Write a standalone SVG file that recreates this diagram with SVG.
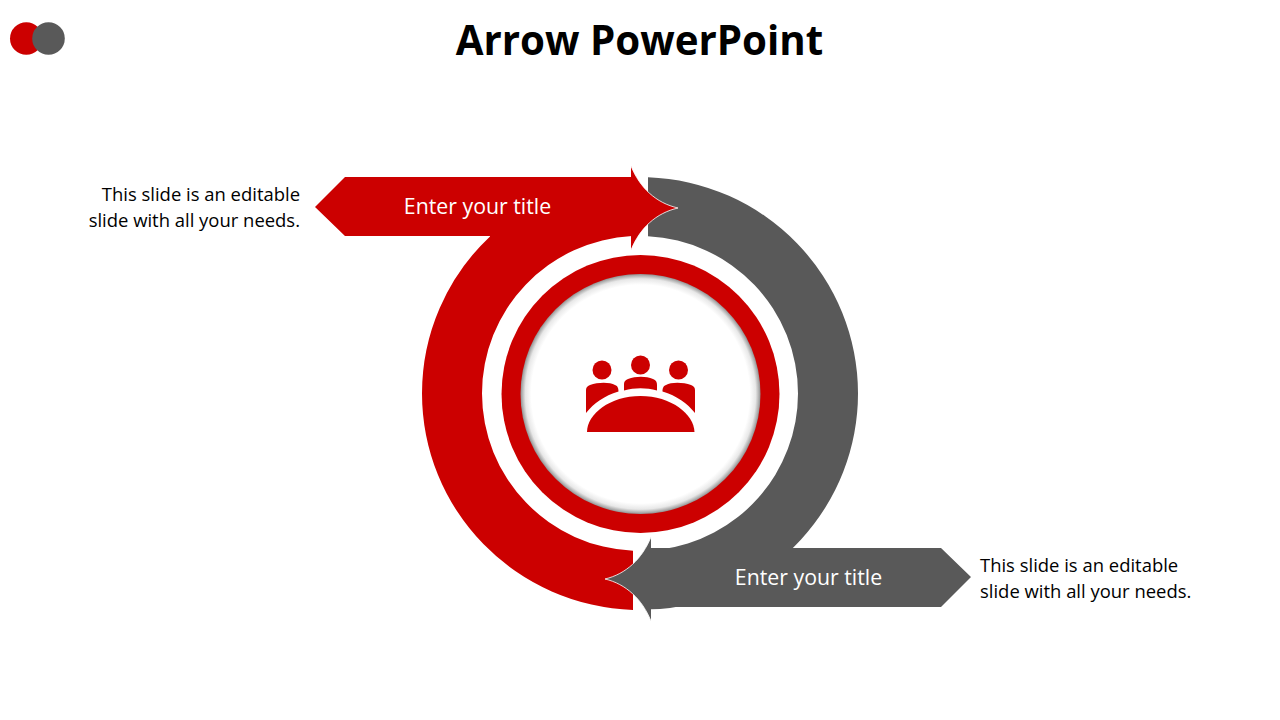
<svg xmlns="http://www.w3.org/2000/svg" width="1280" height="720" viewBox="0 0 1280 720">
<style>
.red{fill:#cc0000}.grey{fill:#595959}
.edge{fill:none;stroke:#fff;stroke-width:0.8}
.t{font-family:"Open Sans","Liberation Sans",sans-serif}
.body{font-size:18.45px;fill:#000}
.lab{font-size:21.3px;fill:#fff;text-anchor:middle}
.title{font-size:40.3px;font-weight:700;fill:#000;text-anchor:middle}
</style>
<defs>
<radialGradient id="inset" gradientUnits="userSpaceOnUse" cx="640.5" cy="394" r="120">
<stop offset="0.91" stop-color="#fff"/>
<stop offset="0.96" stop-color="#e8e8e8"/>
<stop offset="0.99" stop-color="#a8a8a8"/>
<stop offset="1" stop-color="#909090"/>
</radialGradient>
</defs>
<rect width="1280" height="720" fill="#fff"/>
<g id="logo">
<circle class="red" cx="26.300" cy="38.500" r="16.300"/>
<circle class="grey" cx="48.500" cy="38.500" r="16.300"/>
</g>
<text id="title" class="t title" x="639.500" y="54.500">Arrow PowerPoint</text>
<g id="connectors">
<path id="grey-arc" class="grey" d="M648 177.150A218 216.500 0 0 1 858 393.500A218 216.500 0 0 1 660 609.100L651 609.300V550H660V549.700A158 157.500 0 0 0 798 393.500A158 157.500 0 0 0 648 236.200Z"/>
<path id="red-arc" class="red" d="M633 609.900A218 216.500 0 0 1 422 393.500A218 216.500 0 0 1 490 236.400V230H632V236.100A158 157.500 0 0 0 482 393.500A158 157.500 0 0 0 633 550.800Z"/>
</g>
<g id="node-arrow-red">
<path class="red" d="M315 207L345 177H631V166C640 188 656 203 678 208C656 213 640 228 631 250V236H345Z"/>
<path class="edge" d="M631 166C640 188 656 203 678 208C656 213 640 228 631 250"/>
<text class="t lab" x="477.500" y="214">Enter your title</text>
</g>
<g id="node-arrow-grey">
<path class="grey" d="M971 577L941 548H651V537C642 559 626 574 605 579C626 584 642 599 651 621V607H941Z"/>
<path class="edge" d="M651 537C642 559 626 574 605 579C626 584 642 599 651 621"/>
<text class="t lab" x="808.500" y="585">Enter your title</text>
</g>
<g id="node-centre">
<circle class="red" cx="640.500" cy="394" r="139"/>
<circle cx="640.500" cy="394" r="120" fill="url(#inset)"/>
<g id="icon" class="red">
<circle cx="602" cy="370" r="9.500"/>
<circle cx="640.500" cy="365" r="9.500"/>
<circle cx="678.500" cy="370" r="9.500"/>
<path d="M586 413V390C586 387 588 386 590 385C598 382 610 382 615 385C618 386 618.500 389 618.500 391.500C604 396 594 403 586 413Z"/>
<path d="M624 390.500V384C624 381 626 380 628 379C636 376 646 376 653 379C656 380 657 382 657 385V390.500C646 387.500 635 387.500 624 390.500Z"/>
<path d="M695 413V390C695 387 693 386 691 385C683 382 671 382 666 385C663 386 662.500 389 662.500 391.500C677 396 687 403 695 413Z"/>
<path d="M587 432C587 414 610 396 640.500 396C671 396 694 414 694.500 432Z"/>
</g>
</g>
<g id="node-text-left">
<text class="t body" text-anchor="end" x="300" y="201">This slide is an editable</text>
<text class="t body" text-anchor="end" x="300" y="227">slide with all your needs.</text>
</g>
<g id="node-text-right">
<text class="t body" x="980" y="572">This slide is an editable</text>
<text class="t body" x="980" y="598">slide with all your needs.</text>
</g>
</svg>
